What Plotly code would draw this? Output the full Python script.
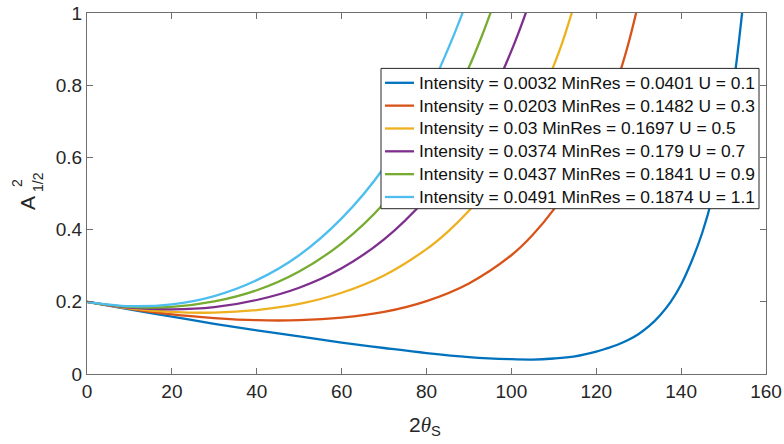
import plotly.graph_objects as go

# Peak width squared versus scattering angle for several U settings
labels = [
    "Intensity = 0.0032 MinRes = 0.0401 U = 0.1",
    "Intensity = 0.0203 MinRes = 0.1482 U = 0.3",
    "Intensity = 0.03 MinRes = 0.1697 U = 0.5",
    "Intensity = 0.0374 MinRes = 0.179 U = 0.7",
    "Intensity = 0.0437 MinRes = 0.1841 U = 0.9",
    "Intensity = 0.0491 MinRes = 0.1874 U = 1.1",
]
colors = ["#0072BD", "#D95319", "#EDB120", "#7E2F8E", "#77AC30", "#4DBEEE"]

x_u01 = [0, 10, 20, 30, 40, 50, 60, 70, 80, 90, 100, 105, 110, 115, 120,
         122.5, 125, 127.5, 130, 132.5, 135, 137.5, 140, 142.5, 145, 147.5,
         150, 152.5, 155]
y_u01 = [0.2, 0.179, 0.159, 0.139, 0.121, 0.104, 0.087, 0.072, 0.058, 0.047,
         0.041, 0.040, 0.043, 0.049, 0.062, 0.071, 0.081, 0.094, 0.111, 0.133,
         0.162, 0.199, 0.248, 0.313, 0.392, 0.495, 0.635, 0.815, 1.07]

x_u03 = [0, 10, 20, 30, 40, 50, 60, 70, 80, 90, 100, 105, 110, 115, 120, 125,
         127.5, 130]
y_u03 = [0.2, 0.181, 0.165, 0.155, 0.149, 0.149, 0.156, 0.172, 0.202, 0.251,
         0.329, 0.385, 0.456, 0.545, 0.661, 0.815, 0.912, 1.03]

x_u05 = [0, 10, 20, 30, 40, 50, 60, 70, 80, 85, 90, 95, 100, 105, 110, 112, 115]
y_u05 = [0.2, 0.182, 0.172, 0.170, 0.177, 0.194, 0.225, 0.273, 0.346, 0.394,
         0.452, 0.523, 0.610, 0.718, 0.855, 0.918, 1.03]

x_u07 = [0, 10, 20, 30, 40, 50, 60, 70, 80, 85, 90, 95, 100, 102, 104]
y_u07 = [0.2, 0.184, 0.179, 0.185, 0.205, 0.239, 0.293, 0.373, 0.487, 0.562,
         0.652, 0.762, 0.895, 0.955, 1.02]

x_u09 = [0, 10, 20, 30, 40, 50, 60, 70, 80, 85, 90, 93, 96]
y_u09 = [0.2, 0.186, 0.186, 0.201, 0.232, 0.284, 0.362, 0.473, 0.630, 0.730,
         0.850, 0.935, 1.03]

x_u11 = [0, 10, 20, 30, 40, 50, 60, 70, 80, 85, 88, 90]
y_u11 = [0.2, 0.188, 0.193, 0.216, 0.260, 0.329, 0.431, 0.572, 0.770, 0.898,
         0.985, 1.05]

series_x = [x_u01, x_u03, x_u05, x_u07, x_u09, x_u11]
series_y = [y_u01, y_u03, y_u05, y_u07, y_u09, y_u11]

FONT = "Liberation Sans, Arial, Helvetica, sans-serif"
SERIF = "Liberation Serif, Times New Roman, serif"
AXIS_GRAY = "#6f6f6f"
TEXT = "#262626"
LINE_W = 2.3

fig = go.Figure()
for xs, ys, name, col in zip(series_x, series_y, labels, colors):
    fig.add_trace(go.Scatter(
        x=xs, y=ys, name=name, mode="lines", showlegend=False,
        line=dict(color=col, width=LINE_W, shape="spline", smoothing=1.0),
    ))

axis_common = dict(
    showgrid=False, zeroline=False, showline=True, linecolor=AXIS_GRAY,
    linewidth=1, mirror="ticks", ticks="inside", ticklen=6, tickwidth=1,
    tickcolor=AXIS_GRAY, automargin=False,
    tickfont=dict(family=FONT, size=19, color=TEXT),
)

fig.update_xaxes(range=[0, 160], dtick=20, tick0=0, **axis_common)
fig.update_yaxes(range=[0, 1], dtick=0.2, tick0=0, **axis_common)

L, R, T, B = 87, 18, 13, 70
W, H = 784, 444
pw, ph = W - L - R, H - T - B


def px(xp):
    return (xp - L) / pw


def py(yp):
    return (H - B - yp) / ph


annotations = [
    # x-axis label
    dict(text=f"2<i><span style=\"font-family:{SERIF}\">θ</span></i><sub>S</sub>",
         x=px(425), y=py(426), xref="paper", yref="paper", showarrow=False,
         xanchor="center", yanchor="middle",
         font=dict(family=FONT, size=21, color=TEXT)),
    # y-axis label: A with stacked super/subscript
    dict(text="A", x=px(27), y=py(203), xref="paper", yref="paper",
         showarrow=False, textangle=-90, xanchor="center", yanchor="middle",
         font=dict(family=FONT, size=21, color=TEXT)),
    dict(text="2", x=px(17), y=py(183), xref="paper", yref="paper",
         showarrow=False, textangle=-90, xanchor="center", yanchor="middle",
         font=dict(family=FONT, size=14, color=TEXT)),
    dict(text="1/2", x=px(38), y=py(182), xref="paper", yref="paper",
         showarrow=False, textangle=-90, xanchor="center", yanchor="middle",
         font=dict(family=FONT, size=14, color=TEXT)),
]

# Legend box drawn over the curves
LEG_X0, LEG_X1, LEG_Y0, LEG_Y1 = 381, 759, 68.4, 208.7
ROW0, ROW_STEP = 82.8, 22.84
shapes = [dict(type="rect", xref="paper", yref="paper",
               x0=px(LEG_X0), x1=px(LEG_X1), y0=py(LEG_Y1), y1=py(LEG_Y0),
               fillcolor="white", line=dict(color="#262626", width=1),
               layer="above")]
for i, (name, col) in enumerate(zip(labels, colors)):
    ry = ROW0 + ROW_STEP * i
    shapes.append(dict(type="line", xref="paper", yref="paper",
                       x0=px(385), x1=px(414), y0=py(ry), y1=py(ry),
                       line=dict(color=col, width=LINE_W), layer="above"))
    annotations.append(dict(text=name, x=px(417), y=py(ry), xref="paper",
                            yref="paper", showarrow=False, xanchor="left",
                            yanchor="middle",
                            font=dict(family=FONT, size=17.4, color="#111111")))

fig.update_layout(
    width=W, height=H,
    margin=dict(l=L, r=R, t=T, b=B, pad=0, autoexpand=False),
    paper_bgcolor="white", plot_bgcolor="white",
    showlegend=False,
    shapes=shapes,
    annotations=annotations,
)

fig.write_html("out.html")
